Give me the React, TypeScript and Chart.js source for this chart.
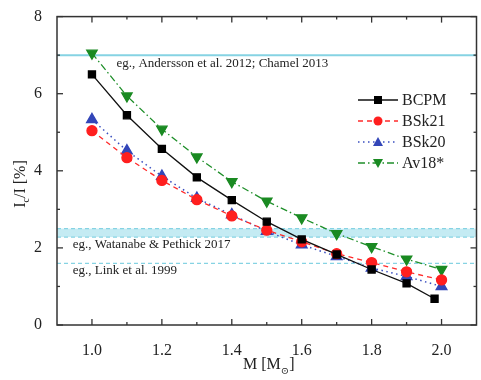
import { useEffect, useRef } from "react";
import { Chart, registerables } from "chart.js";
Chart.register(...registerables);

// ---- data ----
const masses = [1.0, 1.1, 1.2, 1.3, 1.4, 1.5, 1.6, 1.7, 1.8, 1.9, 2.0];
const bcpmMasses = [1.0, 1.1, 1.2, 1.3, 1.4, 1.5, 1.6, 1.7, 1.8, 1.9, 1.98];
const bcpm = [6.5, 5.44, 4.57, 3.83, 3.24, 2.68, 2.22, 1.83, 1.44, 1.08, 0.68];
const bsk21 = [5.04, 4.34, 3.75, 3.25, 2.83, 2.46, 2.16, 1.85, 1.62, 1.38, 1.17];
const bsk20 = [5.33, 4.52, 3.86, 3.29, 2.86, 2.43, 2.08, 1.78, 1.48, 1.26, 1.0];
const av18 = [7.05, 5.94, 5.08, 4.36, 3.72, 3.21, 2.78, 2.37, 2.03, 1.71, 1.44];
const seriesNames = ["BCPM", "BSk21", "BSk20", "Av18*"];

const xMajorTicks = [1.0, 1.2, 1.4, 1.6, 1.8, 2.0];
const xMinorTicks = [1.1, 1.3, 1.5, 1.7, 1.9];
const yMajorTicks = [0, 2, 4, 6, 8];
const yMinorTicks = [1, 3, 5, 7];

const anderssonLevel = 7.0;
const watanabeBand = [2.28, 2.5];
const linkLevel = 1.6;
const refLabels = [
  { text: "eg., Andersson et al. 2012; Chamel 2013", x: 1.07, y: 6.77 },
  { text: "eg., Watanabe & Pethick 2017", x: 0.945, y: 2.09 },
  { text: "eg., Link et al. 1999", x: 0.945, y: 1.4 },
];

const FONT = "'Liberation Serif', 'DejaVu Serif', serif";
const CYAN = "#86d3e3";

const overlayPlugin = {
  id: "overlay",
  beforeDatasetsDraw(chart: any) {
    const { ctx, chartArea: a, scales } = chart;
    const xs = scales.x, ys = scales.y;
    ctx.save();
    // band
    const b1 = ys.getPixelForValue(watanabeBand[0]);
    const b2 = ys.getPixelForValue(watanabeBand[1]);
    ctx.fillStyle = "#c4ebf3";
    ctx.fillRect(a.left, b2, a.right - a.left, b1 - b2);
    ctx.strokeStyle = CYAN;
    ctx.lineWidth = 1.2;
    ctx.setLineDash([4, 3]);
    for (const v of [watanabeBand[0], watanabeBand[1], linkLevel]) {
      const y = ys.getPixelForValue(v);
      ctx.beginPath();
      ctx.moveTo(a.left, y);
      ctx.lineTo(a.right, y);
      ctx.stroke();
    }
    ctx.setLineDash([]);
    ctx.lineWidth = 2;
    const ya = ys.getPixelForValue(anderssonLevel);
    ctx.beginPath();
    ctx.moveTo(a.left, ya);
    ctx.lineTo(a.right, ya);
    ctx.stroke();
    // labels
    ctx.fillStyle = "#222";
    ctx.font = `13px ${FONT}`;
    ctx.textBaseline = "middle";
    ctx.textAlign = "left";
    for (const l of refLabels) {
      ctx.fillText(l.text, xs.getPixelForValue(l.x), ys.getPixelForValue(l.y));
    }
    ctx.restore();
  },
  afterDraw(chart: any) {
    const { ctx, chartArea: a, scales } = chart;
    const xs = scales.x, ys = scales.y;
    ctx.save();
    ctx.strokeStyle = "#333";
    ctx.lineWidth = 1.5;
    ctx.strokeRect(a.left, a.top, a.right - a.left, a.bottom - a.top);
    ctx.lineWidth = 1.3;
    const tick = (x1: number, y1: number, x2: number, y2: number) => {
      ctx.beginPath();
      ctx.moveTo(x1, y1);
      ctx.lineTo(x2, y2);
      ctx.stroke();
    };
    for (const v of xMajorTicks) {
      const x = xs.getPixelForValue(v);
      tick(x, a.bottom, x, a.bottom - 6);
      tick(x, a.top, x, a.top + 6);
    }
    for (const v of xMinorTicks) {
      const x = xs.getPixelForValue(v);
      tick(x, a.bottom, x, a.bottom - 3);
      tick(x, a.top, x, a.top + 3);
    }
    for (const v of yMajorTicks) {
      const y = ys.getPixelForValue(v);
      tick(a.left, y, a.left + 6, y);
      tick(a.right, y, a.right - 6, y);
    }
    for (const v of yMinorTicks) {
      const y = ys.getPixelForValue(v);
      tick(a.left, y, a.left + 3, y);
      tick(a.right, y, a.right - 3, y);
    }
    // axis titles
    ctx.fillStyle = "#222";
    ctx.textBaseline = "middle";
    // x title: M [M⊙]
    const xc = (a.left + a.right) / 2 + 2;
    const yT = 365;
    const p1 = "M [M";
    const p3 = "]";
    ctx.font = `16px ${FONT}`;
    const w1 = ctx.measureText(p1).width;
    ctx.font = `10px ${FONT}`;
    const w2 = ctx.measureText("⊙").width;
    ctx.font = `16px ${FONT}`;
    const w3 = ctx.measureText(p3).width;
    const sx = xc - (w1 + w2 + w3) / 2;
    ctx.textAlign = "left";
    ctx.fillText(p1, sx, yT);
    ctx.font = `10px ${FONT}`;
    ctx.fillText("⊙", sx + w1, yT + 6);
    ctx.font = `16px ${FONT}`;
    ctx.fillText(p3, sx + w1 + w2, yT);
    // y title: I_c/I [%]
    ctx.save();
    ctx.translate(21, 184);
    ctx.rotate(-Math.PI / 2);
    ctx.font = `16px ${FONT}`;
    const q1 = "I";
    const q3 = "/I [%]";
    const v1 = ctx.measureText(q1).width;
    ctx.font = `10px ${FONT}`;
    const v2 = ctx.measureText("c").width;
    ctx.font = `16px ${FONT}`;
    const v3 = ctx.measureText(q3).width;
    const s = -(v1 + v2 + v3) / 2;
    ctx.fillText(q1, s, 0);
    ctx.font = `10px ${FONT}`;
    ctx.fillText("c", s + v1, 5);
    ctx.font = `16px ${FONT}`;
    ctx.fillText(q3, s + v1 + v2, 0);
    ctx.restore();
    // legend
    const lx = 358, ly0 = 100, dy = 21;
    chart.data.datasets.forEach((ds: any, i: number) => {
      const y = ly0 + i * dy;
      ctx.strokeStyle = ds.borderColor;
      ctx.lineWidth = ds.borderWidth;
      ctx.setLineDash(ds.borderDash || []);
      ctx.beginPath();
      ctx.moveTo(lx, y);
      ctx.lineTo(lx + 40, y);
      ctx.stroke();
      ctx.setLineDash([]);
      ctx.fillStyle = ds.pointBackgroundColor;
      const cx = lx + 20;
      const r = 4.5;
      ctx.beginPath();
      if (ds.pointStyle === "rect") {
        ctx.rect(cx - 4, y - 4, 8, 8);
      } else if (ds.pointStyle === "circle") {
        ctx.arc(cx, y, r, 0, Math.PI * 2);
      } else if (ds.pointRotation === 180) {
        ctx.moveTo(cx - 5, y - 4);
        ctx.lineTo(cx + 5, y - 4);
        ctx.lineTo(cx, y + 5);
        ctx.closePath();
      } else {
        ctx.moveTo(cx - 5, y + 4);
        ctx.lineTo(cx + 5, y + 4);
        ctx.lineTo(cx, y - 5);
        ctx.closePath();
      }
      ctx.fill();
      ctx.fillStyle = "#222";
      ctx.font = `16px ${FONT}`;
      ctx.textAlign = "left";
      ctx.fillText(ds.label, lx + 44, y + 1);
    });
    ctx.restore();
  },
};

export default function App() {
  const ref = useRef<HTMLCanvasElement>(null);
  useEffect(() => {
    if (!ref.current) return;
    const pts = (xsArr: number[], ysArr: number[]) =>
      xsArr.map((x, i) => ({ x, y: ysArr[i] }));
    const chart = new Chart(ref.current, {
      type: "line",
      data: {
        datasets: [
          {
            label: seriesNames[0],
            data: pts(bcpmMasses, bcpm),
            borderColor: "#111",
            backgroundColor: "#111",
            pointBackgroundColor: "#000",
            pointBorderColor: "#000",
            pointStyle: "rect",
            pointRadius: 5,
            borderWidth: 1.3,
            borderDash: [],
          },
          {
            label: seriesNames[1],
            data: pts(masses, bsk21),
            borderColor: "#ff2a2a",
            backgroundColor: "#ff2a2a",
            pointBackgroundColor: "#ff1f1f",
            pointBorderColor: "#ff1f1f",
            pointStyle: "circle",
            pointRadius: 5,
            borderWidth: 1.3,
            borderDash: [5, 4],
          },
          {
            label: seriesNames[2],
            data: pts(masses, bsk20),
            borderColor: "#3a4fc0",
            backgroundColor: "#3a4fc0",
            pointBackgroundColor: "#3346b8",
            pointBorderColor: "#3346b8",
            pointStyle: "triangle",
            pointRadius: 6,
            borderWidth: 1.5,
            borderDash: [1.5, 3.5],
          },
          {
            label: seriesNames[3],
            data: pts(masses, av18),
            borderColor: "#1f8f2a",
            backgroundColor: "#1f8f2a",
            pointBackgroundColor: "#1a8a22",
            pointBorderColor: "#1a8a22",
            pointStyle: "triangle",
            pointRotation: 180,
            pointRadius: 6,
            borderWidth: 1.3,
            borderDash: [7, 3, 1.5, 3],
          },
        ],
      } as any,
      options: {
        animation: false,
        responsive: false,
        maintainAspectRatio: false,
        layout: { padding: { top: 13, right: 1, left: 0, bottom: 0 } },
        plugins: { legend: { display: false }, tooltip: { enabled: false } },
        scales: {
          x: {
            type: "linear",
            min: 0.9,
            max: 2.1,
            grid: { display: false },
            border: { display: false },
            afterBuildTicks: (s: any) => {
              s.ticks = xMajorTicks.map((v) => ({ value: v }));
            },
            afterFit: (s: any) => {
              s.height = 55;
            },
            ticks: {
              padding: 8,
              color: "#222",
              font: { family: FONT, size: 16 },
              callback: (v: any) => Number(v).toFixed(1),
            },
          },
          y: {
            type: "linear",
            min: 0,
            max: 8,
            grid: { display: false },
            border: { display: false },
            afterBuildTicks: (s: any) => {
              s.ticks = yMajorTicks.map((v) => ({ value: v }));
            },
            afterFit: (s: any) => {
              s.width = 57;
            },
            ticks: {
              padding: 7,
              color: "#222",
              font: { family: FONT, size: 16 },
              callback: (v: any) => String(v),
            },
          },
        },
      } as any,
      plugins: [overlayPlugin],
    });
    return () => chart.destroy();
  }, []);
  return (
    <div
      style={{
        position: "absolute",
        left: 0,
        top: 0,
        width: 481,
        height: 380,
        overflow: "hidden",
        background: "#fff",
      }}
    >
      <canvas ref={ref} width={484} height={380} style={{ width: 484, height: 380 }} />
    </div>
  );
}
